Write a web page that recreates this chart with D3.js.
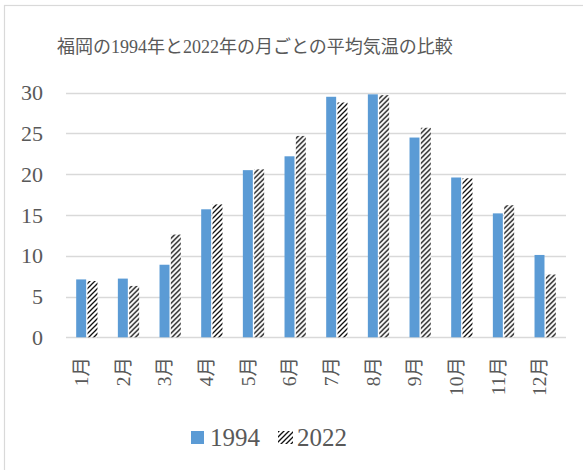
<!DOCTYPE html>
<html>
<head>
<meta charset="utf-8">
<script src="https://cdn.jsdelivr.net/npm/d3@7"></script>
<style>
  html, body { margin: 0; padding: 0; background: #fff; }
  text { font-family: "Liberation Serif", "Noto Sans CJK JP", serif; fill: #595959; }
</style>
</head>
<body>
<script>
// data
const months = ['1月', '2月', '3月', '4月', '5月', '6月', '7月', '8月', '9月', '10月', '11月', '12月'];
const series = ['1994', '2022'];
const temp1994 = [7.1, 7.2, 8.9, 15.7, 20.5, 22.2, 29.5, 29.8, 24.5, 19.6, 15.2, 10.1];
const temp2022 = [6.9, 6.3, 12.6, 16.3, 20.6, 24.7, 28.8, 29.7, 25.7, 19.5, 16.2, 7.7];
const yTicks = [0, 5, 10, 15, 20, 25, 30];

const width = 583, height = 470;
const margin = { top: 92.7, right: 17, bottom: 132.7, left: 66 };

const svg = d3.select('body').append('svg')
  .attr('width', width)
  .attr('height', height)
  .attr('viewBox', `0 0 ${width} ${height}`);

// hatch pattern for the 2022 series
const defs = svg.append('defs');
const pat = defs.append('pattern')
  .attr('id', 'hatch')
  .attr('patternUnits', 'userSpaceOnUse')
  .attr('width', 5)
  .attr('height', 5);
pat.append('rect').attr('width', 5).attr('height', 5).attr('fill', '#fff');
pat.append('path')
  .attr('d', 'M-1,1 l2,-2 M0,5 l5,-5 M4,6 l2,-2')
  .attr('stroke', '#111')
  .attr('stroke-width', 1.3);

// chart frame
svg.append('rect')
  .attr('x', 4.5).attr('y', 5.5)
  .attr('width', 600).attr('height', 500)
  .attr('fill', 'none')
  .attr('stroke', '#d9d9d9')
  .attr('stroke-width', 1.2);

svg.append('text')
  .attr('x', 57)
  .attr('y', 53)
  .attr('font-size', 18)
  .text('福岡の1994年と2022年の月ごとの平均気温の比較');

const x0 = d3.scaleBand()
  .domain(months)
  .range([margin.left, width - margin.right]);

const x1 = d3.scaleBand()
  .domain(series)
  .range([0, x0.bandwidth()])
  .paddingInner(0.12)
  .paddingOuter(0.9);

const y = d3.scaleLinear()
  .domain([0, 30])
  .range([height - margin.bottom, margin.top]);

// gridlines
svg.append('g')
  .selectAll('line')
  .data(yTicks)
  .enter()
  .append('line')
  .attr('x1', margin.left)
  .attr('x2', width - margin.right)
  .attr('y1', d => Math.round(y(d)) + 0.5)
  .attr('y2', d => Math.round(y(d)) + 0.5)
  .attr('stroke', '#d9d9d9')
  .attr('stroke-width', 1.3);

// y labels
svg.append('g')
  .selectAll('text')
  .data(yTicks)
  .enter()
  .append('text')
  .attr('x', 43)
  .attr('y', d => y(d))
  .attr('dy', '0.35em')
  .attr('text-anchor', 'end')
  .attr('font-size', 22)
  .text(d => d);

// bars
const rows = months.map((m, i) => ({ month: m, values: [temp1994[i], temp2022[i]] }));

const groups = svg.append('g')
  .selectAll('g')
  .data(rows)
  .enter()
  .append('g')
  .attr('transform', d => `translate(${x0(d.month)},0)`);

groups.selectAll('rect')
  .data(d => d.values.map((v, k) => ({ key: series[k], value: v })))
  .enter()
  .append('rect')
  .attr('x', d => x1(d.key))
  .attr('width', x1.bandwidth())
  .attr('y', d => y(d.value))
  .attr('height', d => y(0) - y(d.value))
  .attr('fill', d => d.key === '1994' ? '#5b9bd5' : 'url(#hatch)');

// x labels, rotated
svg.append('g')
  .selectAll('text')
  .data(months)
  .enter()
  .append('text')
  .attr('transform', d => `translate(${x0(d) + x0.bandwidth() / 2 + 1},357) rotate(-90)`)
  .attr('text-anchor', 'end')
  .attr('font-size', 19.5)
  .text(d => d);

// legend
const legend = svg.append('g');
legend.append('rect')
  .attr('x', 191).attr('y', 431)
  .attr('width', 13).attr('height', 13)
  .attr('fill', '#5b9bd5');
legend.append('text')
  .attr('x', 210).attr('y', 446)
  .attr('font-size', 25)
  .text(series[0]);
legend.append('rect')
  .attr('x', 278).attr('y', 431)
  .attr('width', 15).attr('height', 13)
  .attr('fill', 'url(#hatch)');
legend.append('text')
  .attr('x', 297).attr('y', 446)
  .attr('font-size', 25)
  .text(series[1]);
</script>
</body>
</html>
